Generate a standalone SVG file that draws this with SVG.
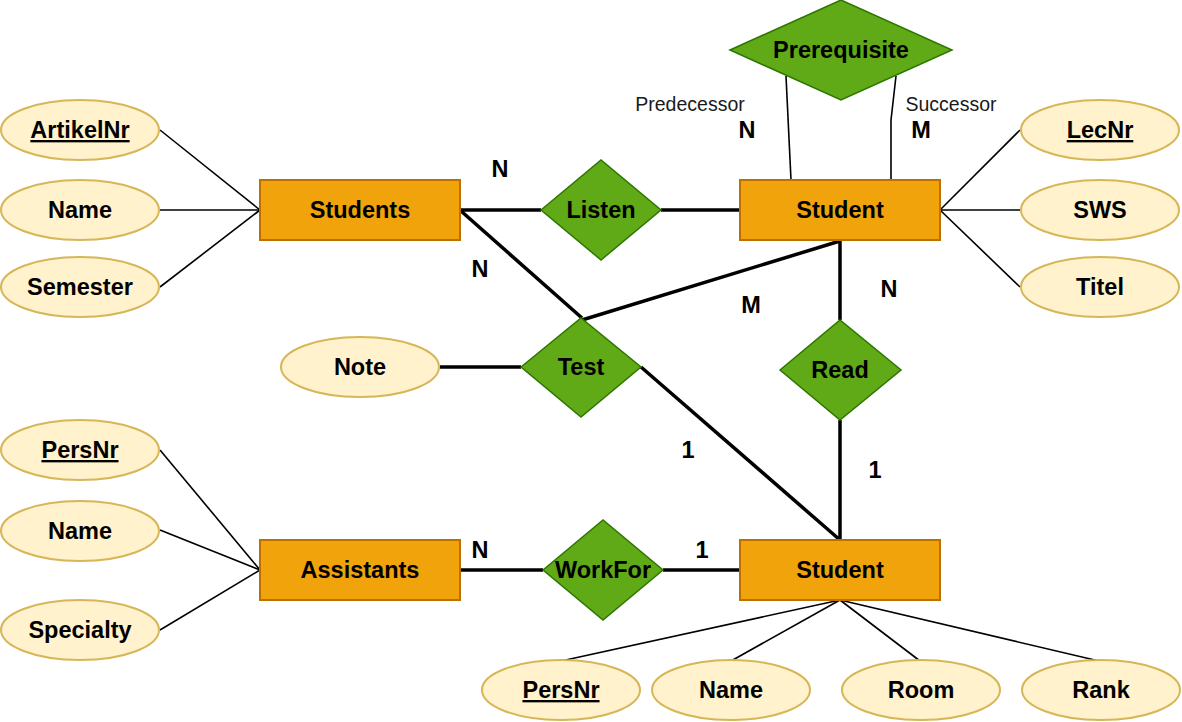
<svg xmlns="http://www.w3.org/2000/svg" width="1182" height="722" viewBox="0 0 1182 722">
<style>
.ent{fill:#f0a30a;stroke:#bd7000;stroke-width:2}
.rel{fill:#60a917;stroke:#2d7600;stroke-width:1.5}
.att{fill:#fff2cc;stroke:#d6b656;stroke-width:2}
.t{font-family:"Liberation Sans",Arial,sans-serif;font-weight:bold;font-size:23.5px;text-anchor:middle;fill:#000}
.u{text-decoration:underline}
.s{font-family:"Liberation Sans",Arial,sans-serif;font-size:19.5px;text-anchor:middle;fill:#1a1a1a}
.thin{stroke:#000;stroke-width:1.6;fill:none}
.thick{stroke:#000;stroke-width:3.5;fill:none}
</style>
<rect width="1182" height="722" fill="#fff"/>
<g id="connectors">
<line class="thin" x1="160" y1="130" x2="260" y2="210"/>
<line class="thin" x1="160" y1="210" x2="260" y2="210"/>
<line class="thin" x1="160" y1="287" x2="260" y2="210"/>
<line class="thin" x1="940" y1="210" x2="1020" y2="130"/>
<line class="thin" x1="940" y1="210" x2="1020" y2="210"/>
<line class="thin" x1="940" y1="210" x2="1020" y2="287"/>
<line class="thin" x1="160" y1="450" x2="260" y2="570"/>
<line class="thin" x1="160" y1="530" x2="260" y2="570"/>
<line class="thin" x1="160" y1="630" x2="260" y2="570"/>
<line class="thin" x1="840" y1="600" x2="561" y2="661"/>
<line class="thin" x1="840" y1="600" x2="731" y2="661"/>
<line class="thin" x1="840" y1="600" x2="920" y2="661"/>
<line class="thin" x1="840" y1="600" x2="1099" y2="661"/>
<line class="thin" x1="786" y1="76" x2="791" y2="180"/>
<polyline class="thin" points="896,76 891,120 891,180"/>
<line class="thick" x1="460" y1="210" x2="541" y2="210"/>
<line class="thick" x1="661" y1="210" x2="740" y2="210"/>
<line class="thick" x1="461" y1="211" x2="582" y2="318"/>
<line class="thick" x1="582" y1="320" x2="840" y2="241"/>
<line class="thick" x1="840" y1="241" x2="840" y2="320"/>
<line class="thick" x1="840" y1="420" x2="840" y2="540"/>
<line class="thick" x1="641" y1="367" x2="840" y2="540"/>
<line class="thick" x1="440" y1="367" x2="521" y2="367"/>
<line class="thick" x1="460" y1="570" x2="543" y2="570"/>
<line class="thick" x1="663" y1="570" x2="740" y2="570"/>
<text class="s" x="690" y="111">Predecessor</text>
<text class="s" x="951" y="111">Successor</text>
<text class="t" x="747" y="138">N</text>
<text class="t" x="921" y="138">M</text>
<text class="t" x="500" y="177">N</text>
<text class="t" x="480" y="277">N</text>
<text class="t" x="751" y="313">M</text>
<text class="t" x="889" y="297">N</text>
<text class="t" x="688" y="458">1</text>
<text class="t" x="875" y="478">1</text>
<text class="t" x="480" y="558">N</text>
<text class="t" x="702" y="558">1</text>
</g>
<g id="students"><rect class="ent" x="260" y="180" width="200" height="60"/><text class="t" x="360" y="218">Students</text></g>
<g id="student-lecture"><rect class="ent" x="740" y="180" width="200" height="60"/><text class="t" x="840" y="218">Student</text></g>
<g id="assistants"><rect class="ent" x="260" y="540" width="200" height="60"/><text class="t" x="360" y="578">Assistants</text></g>
<g id="student-prof"><rect class="ent" x="740" y="540" width="200" height="60"/><text class="t" x="840" y="578">Student</text></g>
<g id="prerequisite"><polygon class="rel" points="730,50 841,0 952,50 841,100"/><text class="t" x="841" y="58">Prerequisite</text></g>
<g id="listen"><polygon class="rel" points="541,210 601,160 661,210 601,260"/><text class="t" x="601" y="218">Listen</text></g>
<g id="test"><polygon class="rel" points="521,367 581,318 641,367 581,417"/><text class="t" x="581" y="375">Test</text></g>
<g id="read"><polygon class="rel" points="780,370 840,320 901,370 840,420"/><text class="t" x="840" y="378">Read</text></g>
<g id="workfor"><polygon class="rel" points="543,570 603,520 663,570 603,620"/><text class="t" x="603" y="578">WorkFor</text></g>
<g id="attr-artikelnr"><ellipse class="att" cx="80" cy="130" rx="79" ry="30"/><text class="t u" x="80" y="138">ArtikelNr</text></g>
<g id="attr-name1"><ellipse class="att" cx="80" cy="210" rx="79" ry="30"/><text class="t" x="80" y="218">Name</text></g>
<g id="attr-semester"><ellipse class="att" cx="80" cy="287" rx="79" ry="30"/><text class="t" x="80" y="295">Semester</text></g>
<g id="attr-lecnr"><ellipse class="att" cx="1100" cy="130" rx="79" ry="30"/><text class="t u" x="1100" y="138">LecNr</text></g>
<g id="attr-sws"><ellipse class="att" cx="1100" cy="210" rx="79" ry="30"/><text class="t" x="1100" y="218">SWS</text></g>
<g id="attr-titel"><ellipse class="att" cx="1100" cy="287" rx="79" ry="30"/><text class="t" x="1100" y="295">Titel</text></g>
<g id="attr-note"><ellipse class="att" cx="360" cy="367" rx="79" ry="30"/><text class="t" x="360" y="375">Note</text></g>
<g id="attr-persnr1"><ellipse class="att" cx="80" cy="450" rx="79" ry="30"/><text class="t u" x="80" y="458">PersNr</text></g>
<g id="attr-name2"><ellipse class="att" cx="80" cy="531" rx="79" ry="30"/><text class="t" x="80" y="539">Name</text></g>
<g id="attr-specialty"><ellipse class="att" cx="80" cy="630" rx="79" ry="30"/><text class="t" x="80" y="638">Specialty</text></g>
<g id="attr-persnr2"><ellipse class="att" cx="561" cy="690" rx="79" ry="30"/><text class="t u" x="561" y="698">PersNr</text></g>
<g id="attr-name3"><ellipse class="att" cx="731" cy="690" rx="79" ry="30"/><text class="t" x="731" y="698">Name</text></g>
<g id="attr-room"><ellipse class="att" cx="921" cy="690" rx="79" ry="30"/><text class="t" x="921" y="698">Room</text></g>
<g id="attr-rank"><ellipse class="att" cx="1101" cy="690" rx="79" ry="30"/><text class="t" x="1101" y="698">Rank</text></g>
</svg>
